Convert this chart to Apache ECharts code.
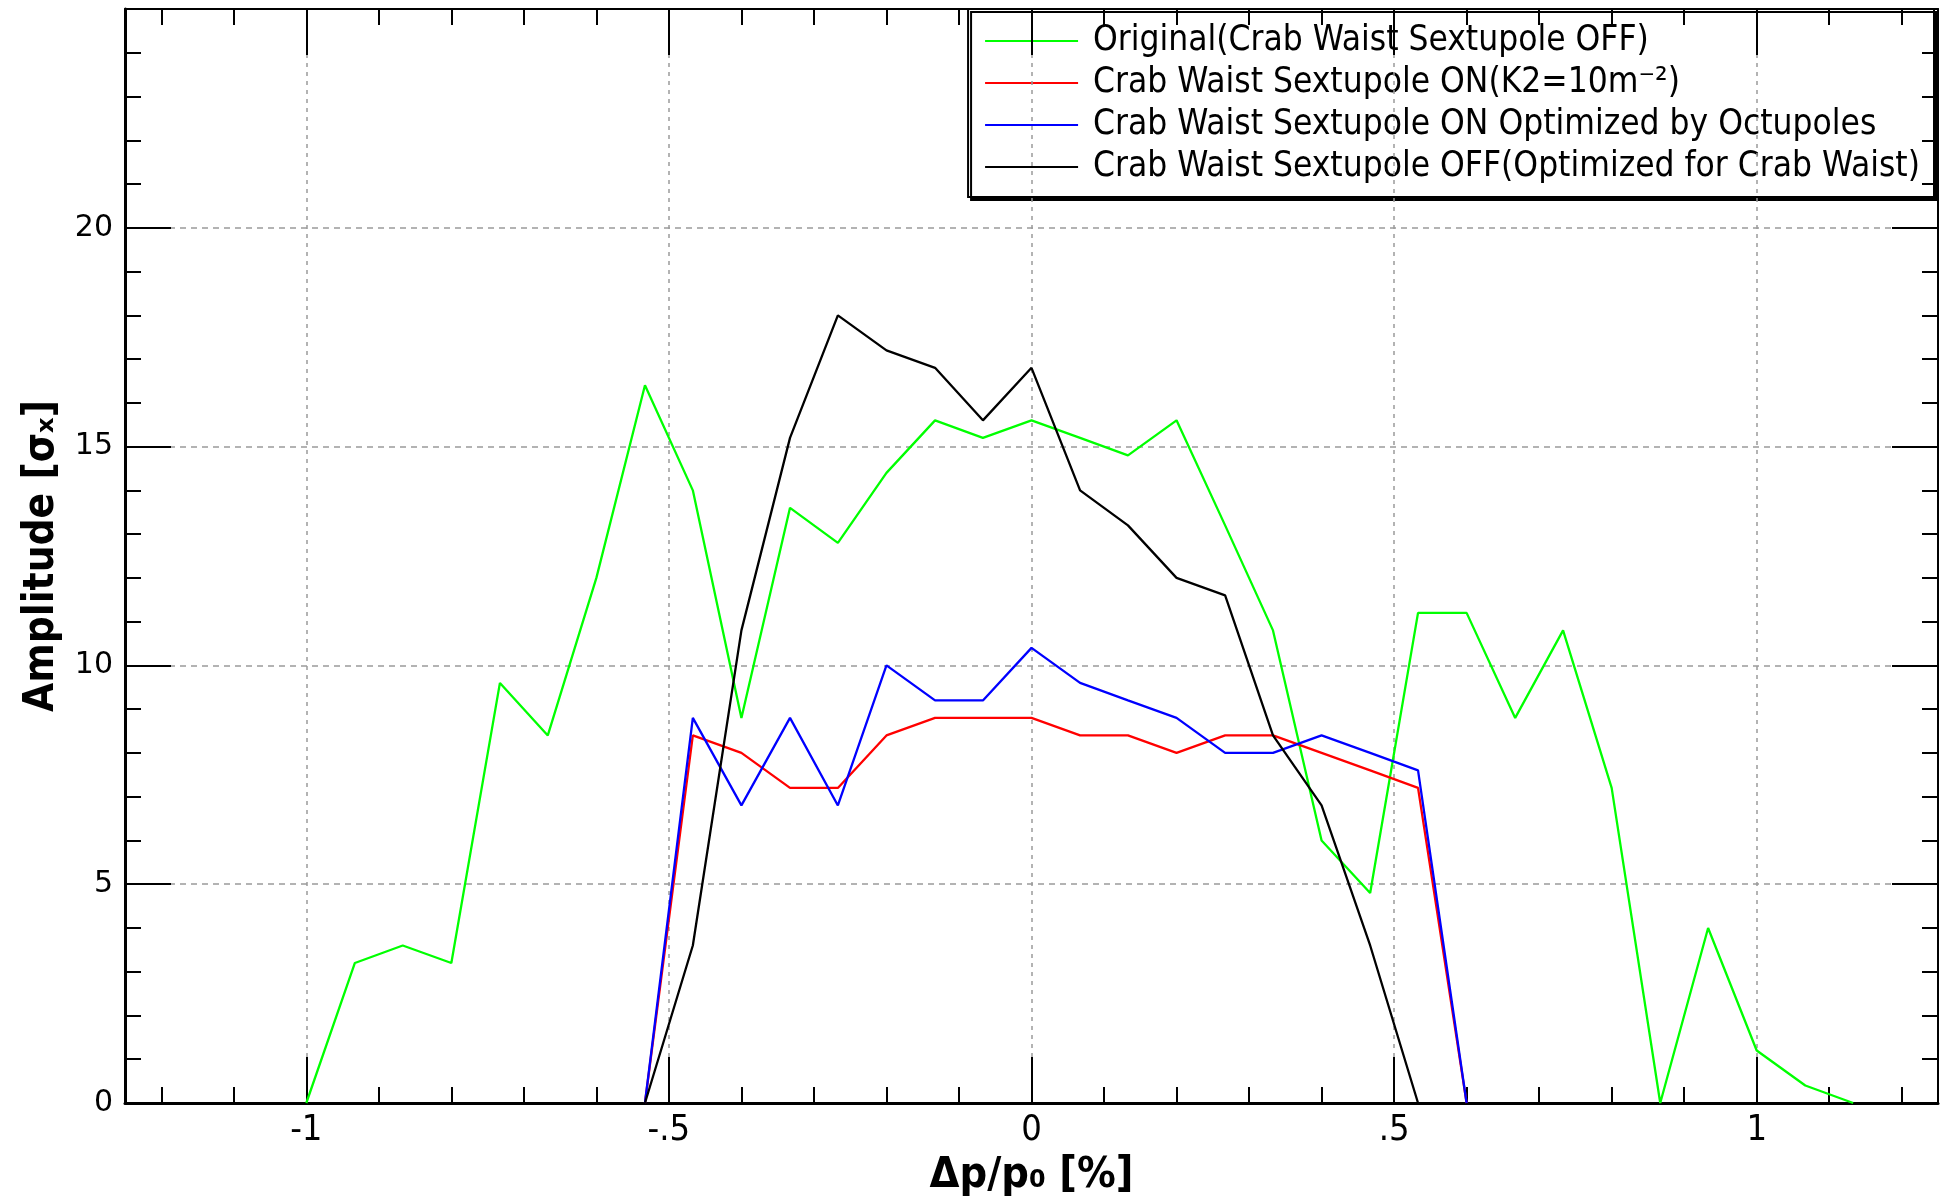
<!DOCTYPE html>
<html>
<head>
<meta charset="utf-8">
<title>Amplitude vs momentum deviation</title>
<script src="https://cdn.jsdelivr.net/npm/echarts@6/dist/echarts.min.js"></script>
<style>
  html, body { margin: 0; padding: 0; background: #fff; }
  #main { width: 1944px; height: 1196px; }
</style>
</head>
<body>
<div id="main"></div>
<script>
// momentum deviation Δp/p0 [%] of each scan point
const dpOverP = [
  -1.000, -0.933, -0.867, -0.800, -0.733, -0.667, -0.600, -0.533, -0.467, -0.400, -0.333,
  -0.267, -0.200, -0.133, -0.067, 0.000, 0.067, 0.133, 0.200, 0.267, 0.333, 0.400,
  0.467, 0.533, 0.600, 0.667, 0.733, 0.800, 0.867, 0.933, 1.000, 1.067, 1.133
];
// amplitude [sigma_x], null = no point at that Δp/p0
const original = [
  0, 3.2, 3.6, 3.2, 9.6, 8.4, 12.0, 16.4, 14.0, 8.8, 13.6,
  12.8, 14.4, 15.6, 15.2, 15.6, 15.2, 14.8, 15.6, 13.2, 10.8, 6.0,
  4.8, 11.2, 11.2, 8.8, 10.8, 7.2, 0, 4.0, 1.2, 0.4, 0
];
const cwOn = [
  null, null, null, null, null, null, null, 0, 8.4, 8.0, 7.2,
  7.2, 8.4, 8.8, 8.8, 8.8, 8.4, 8.4, 8.0, 8.4, 8.4, 8.0,
  7.6, 7.2, 0, null, null, null, null, null, null, null, null
];
const cwOnOctupoles = [
  null, null, null, null, null, null, null, 0, 8.8, 6.8, 8.8,
  6.8, 10.0, 9.2, 9.2, 10.4, 9.6, 9.2, 8.8, 8.0, 8.0, 8.4,
  8.0, 7.6, 0, null, null, null, null, null, null, null, null
];
const cwOffOptimized = [
  null, null, null, null, null, null, null, 0, 3.6, 10.8, 15.2,
  18.0, 17.2, 16.8, 15.6, 16.8, 14.0, 13.2, 12.0, 11.6, 8.4, 6.8,
  3.6, 0, null, null, null, null, null, null, null, null, null
];

const seriesNames = [
  "Original(Crab Waist Sextupole OFF)",
  "Crab Waist Sextupole ON(K2=10m⁻²)",
  "Crab Waist Sextupole ON Optimized by Octupoles",
  "Crab Waist Sextupole OFF(Optimized for Crab Waist)"
];

const xMajorTicks = [-1, -0.5, 0, 0.5, 1];
const xTickLabels = ["-1", "-.5", "0", ".5", "1"];
const xMinorTicks = [-1.2, -1.1, -0.9, -0.8, -0.7, -0.6, -0.4, -0.3, -0.2, -0.1,
  0.1, 0.2, 0.3, 0.4, 0.6, 0.7, 0.8, 0.9, 1.1, 1.2];
const yMajorTicks = [0, 5, 10, 15, 20];

const narrow = "'DejaVu Sans Condensed', sans-serif";

function pairs(ys) {
  return dpOverP.map((x, i) => [x, ys[i]]).filter(p => p[1] !== null);
}

function xAxisOf(position, values, tickLen, lineWidth) {
  return {
    type: "value",
    min: -1.25,
    max: 1.25,
    position: position,
    axisLine: { show: lineWidth > 0, onZero: false, lineStyle: { color: "#000", width: lineWidth } },
    axisTick: { show: true, inside: true, length: tickLen, customValues: values, lineStyle: { color: "#000", width: 2 } },
    axisLabel: { show: false },
    splitLine: { show: false }
  };
}

function yAxisOf(position, values, tickLen, lineWidth) {
  return {
    type: "value",
    min: 0,
    max: 25,
    interval: 5,
    position: position,
    axisLine: { show: lineWidth > 0, onZero: false, lineStyle: { color: "#000", width: lineWidth } },
    axisTick: { show: true, inside: true, length: tickLen, customValues: values, lineStyle: { color: "#000", width: 2 } },
    axisLabel: { show: false },
    splitLine: { show: false }
  };
}

const bottomAxis = xAxisOf("bottom", xMajorTicks, 46, 3);
bottomAxis.name = "Δp/p₀ [%]";
bottomAxis.nameLocation = "middle";
bottomAxis.nameGap = 48;
bottomAxis.nameTextStyle = { fontFamily: narrow, fontWeight: "bold", fontSize: 43, color: "#000" };
bottomAxis.axisLabel = {
  show: true,
  customValues: xMajorTicks,
  formatter: v => xTickLabels[xMajorTicks.indexOf(v)],
  fontFamily: narrow,
  fontSize: 36,
  color: "#000",
  margin: 10
};
bottomAxis.splitLine = { show: true, lineStyle: { color: "#9a9a9a", width: 1.5, type: [4, 5] } };

const leftAxis = yAxisOf("left", yMajorTicks, 46, 3);
leftAxis.name = "Amplitude [σₓ]";
leftAxis.nameLocation = "middle";
leftAxis.nameGap = 62;
leftAxis.nameRotate = 90;
leftAxis.nameTextStyle = { fontFamily: narrow, fontWeight: "bold", fontSize: 42, color: "#000" };
leftAxis.axisLabel = {
  show: true,
  customValues: yMajorTicks,
  fontFamily: "'DejaVu Sans', sans-serif",
  fontSize: 30,
  color: "#000",
  margin: 12
};
leftAxis.splitLine = { show: true, lineStyle: { color: "#9a9a9a", width: 1.5, type: [6, 5] } };

const colors = ["#00ff00", "#ff0000", "#0000ff", "#000000"];
const values = [original, cwOn, cwOnOctupoles, cwOffOptimized];

const option = {
  animation: false,
  backgroundColor: "#fff",
  grid: { left: 125, right: 6, top: 9, bottom: 93, containLabel: false, outerBoundsMode: "none" },
  legend: {
    orient: "vertical",
    right: 10,
    top: 9,
    z: -1,
    padding: [11, 14, 9, 17],
    itemGap: 0,
    itemWidth: 93,
    itemHeight: 2,
    icon: "rect",
    borderColor: "#000",
    borderWidth: 2,
    backgroundColor: "#fff",
    shadowColor: "#000",
    shadowOffsetX: 3,
    shadowOffsetY: 3,
    shadowBlur: 0,
    textStyle: { fontFamily: narrow, fontSize: 35, lineHeight: 42, color: "#000", padding: [0, 0, 0, 10] },
    data: seriesNames
  },
  xAxis: [
    bottomAxis,
    xAxisOf("top", xMajorTicks, 46, 2),
    xAxisOf("bottom", xMinorTicks, 16, 0),
    xAxisOf("top", xMinorTicks, 16, 0)
  ],
  yAxis: [
    leftAxis,
    yAxisOf("right", yMajorTicks, 46, 2),
    Object.assign(yAxisOf("left", null, 16, 0), { interval: 1 }),
    Object.assign(yAxisOf("right", null, 16, 0), { interval: 1 })
  ],
  series: seriesNames.map((name, i) => ({
    name: name,
    type: "line",
    xAxisIndex: 0,
    yAxisIndex: 0,
    symbol: "none",
    color: colors[i],
    lineStyle: { color: colors[i], width: 2.3 },
    data: pairs(values[i])
  }))
};

const chart = echarts.init(document.getElementById("main"));
chart.setOption(option);
</script>
</body>
</html>
